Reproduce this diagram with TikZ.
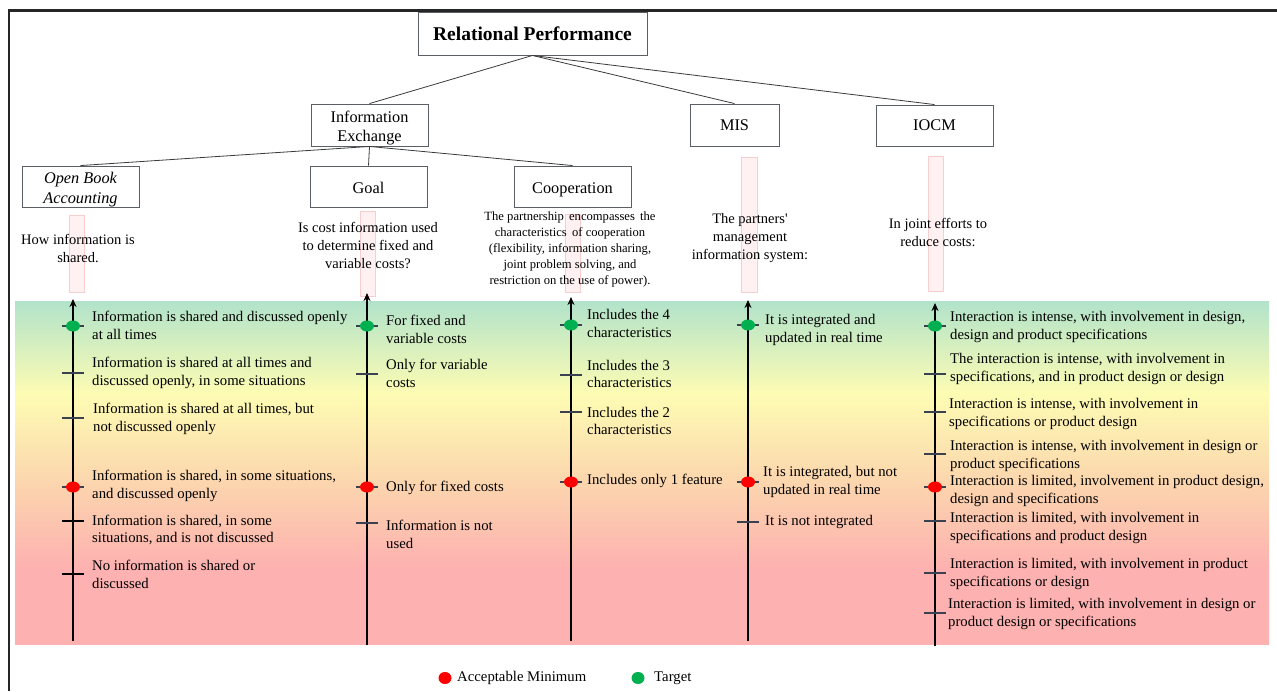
\documentclass[tikz,border=0pt]{standalone}
\usepackage{fontspec}
\setmainfont{Liberation Serif}
\newfontfamily\nolig{Liberation Serif}
\usetikzlibrary{arrows.meta,shapes.geometric}
\definecolor{framec}{HTML}{262626}
\definecolor{boxc}{HTML}{5A5F66}
\definecolor{linec}{HTML}{3A3A3A}
\definecolor{tickc}{HTML}{3A4252}
\definecolor{dotg}{HTML}{00B050}
\definecolor{dotr}{HTML}{FF0000}
\definecolor{mintc}{HTML}{B1E3CA}
\definecolor{yelc}{HTML}{FDFCB3}
\definecolor{peachc}{HTML}{FCD7AE}
\definecolor{pinkc}{HTML}{FDB1B0}
\definecolor{stripf}{HTML}{FFF1F1}
\definecolor{stripd}{HTML}{F8CDCD}
\pgfdeclareverticalshading{bandshade}{100bp}{color(0bp)=(pinkc); color(25bp)=(pinkc); color(36bp)=(pinkc); color(49bp)=(peachc); color(61.5bp)=(yelc); color(75bp)=(mintc); color(100bp)=(mintc)}
\newcommand{\bxtext}[1]{\raisebox{-3pt}[\height][\depth]{\begin{tabular}{@{}c@{}}#1\end{tabular}}}
\tikzset{
  box/.style={draw=boxc, line width=0.9pt, fill=white, align=center, inner sep=0pt, font=\fontsize{16.3}{19.5}\selectfont},
  tree/.style={draw=linec, line width=0.8pt},
  lbl/.style={anchor=west, align=left, inner sep=0pt, font=\fontsize{14.75}{17.8}\selectfont},
  desc/.style={align=center, inner sep=0pt, font=\fontsize{14.5}{18}\selectfont},
  tickm/.style={rectangle, fill=tickc, minimum width=22pt, minimum height=2.6pt, inner sep=0pt},
  btick/.style={tickm, fill=black},
  gdot/.style={ellipse, fill=dotg, minimum width=14pt, minimum height=11pt, inner sep=0pt},
  rdot/.style={ellipse, fill=dotr, minimum width=14pt, minimum height=11pt, inner sep=0pt},
  axisline/.style={line width=2.6pt, black, -{Stealth[length=8pt,width=7pt]}},
  strip/.style={fill=stripf, draw=stripd, line width=0.6pt}
}
\begin{document}
\begin{tikzpicture}[x=1pt,y=-1pt]
\useasboundingbox (0,0) rectangle (1277,691);
% frame
\draw[framec, line width=2.6pt] (9,691) -- (9,10.5) -- (1277,10.5);
% gradient band
\shade[shading=bandshade] (15,301) rectangle (1269,644);
% faint strips
\draw[strip] (69,215) rectangle (84,292);
\draw[strip] (360,211) rectangle (375,296);
\draw[strip] (565,214) rectangle (580,292);
\draw[strip] (741,157) rectangle (757,292);
\draw[strip] (928,156) rectangle (943,291);
% tree
\node[box, minimum width=229pt, minimum height=43pt, font=\fontsize{19.5}{22}\selectfont\bfseries] (rp) at (532.5,33.5) {Relational Performance};
\node[box, minimum width=117pt, minimum height=42pt] (ie) at (369.5,125) {\bxtext{Information\\Exchange}};
\node[box, minimum width=89pt, minimum height=42pt] (mis) at (734.5,125) {MIS};
\node[box, minimum width=117pt, minimum height=41pt] (iocm) at (934.5,125.5) {IOCM};
\node[box, minimum width=117pt, minimum height=41pt, font=\fontsize{16.3}{19.5}\selectfont\itshape] (oba) at (80.5,186.5) {\bxtext{Open Book\\Accounting}};
\node[box, minimum width=117pt, minimum height=41pt] (goal) at (368.5,186.5) {\bxtext{Goal}};
\node[box, minimum width=117pt, minimum height=41pt] (coop) at (572.5,186.5) {\bxtext{Cooperation}};
\draw[tree] (rp.south) -- (ie.north);
\draw[tree] (rp.south) -- (mis.north);
\draw[tree] (rp.south) -- (iocm.north);
\draw[tree] (ie.south) -- (oba.north);
\draw[tree] (ie.south) -- (goal.north);
\draw[tree] (ie.south) -- (coop.north);
% descriptions
\node[desc] (d1) at (78,248) {How information is\\shared.};
\node[desc] (d2) at (368,245) {Is cost information used\\to determine fixed and\\variable costs?};
\node[desc, font=\fontsize{12.6}{16}\selectfont] (d3) at (570,249) {The partnership\, encompasses\, the\\characteristics\, of cooperation\\(flexibility, information sharing,\\joint problem solving, and\\restriction on the use of power).};
\node[desc] (d4) at (750,238.5) {The partners{\nolig '}\\management\\information system:};
\node[desc] (d5) at (938,232.5) {In joint efforts to\\reduce costs:};
% axes
\coordinate (a1b) at (73,641); \coordinate (a1t) at (73,299);
\coordinate (a2b) at (367,645); \coordinate (a2t) at (367,293);
\coordinate (a3b) at (571,641); \coordinate (a3t) at (571,297);
\coordinate (a4b) at (748,641); \coordinate (a4t) at (748,300);
\coordinate (a5b) at (935,646); \coordinate (a5t) at (935,303);
\draw[axisline] (a1b) -- (a1t);
\draw[axisline] (a2b) -- (a2t);
\draw[axisline] (a3b) -- (a3t);
\draw[axisline] (a4b) -- (a4t);
\draw[axisline] (a5b) -- (a5t);
% column 1
\node[tickm] (t11) at (73,326) {};
\node[gdot] (g1) at (73,326) {};
\node[tickm] (t12) at (73,373) {};
\node[tickm] (t13) at (73,418) {};
\node[tickm] (t14) at (73,487) {};
\node[rdot] (r1) at (73,487) {};
\node[btick] (t15) at (73,521) {};
\node[btick] (t16) at (73,574) {};
\node[lbl] (l11) at (92,325.5) {Information is shared and discussed openly\\at all times};
\node[lbl] (l12) at (92,373) {Information is shared at all times and\\discussed openly, in some situations};
\node[lbl] (l13) at (93,419) {Information is shared at all times, but\\not discussed openly};
\node[lbl] (l14) at (92,486) {Information is shared, in some situations,\\and discussed openly};
\node[lbl] (l15) at (92,530) {Information is shared, in some\\situations, and is not discussed};
\node[lbl] (l16) at (92,574.5) {No information is shared or\\discussed};
% column 2
\node[tickm] (t21) at (367,326) {};
\node[gdot] (g2) at (367,326) {};
\node[tickm] (t22) at (367,374) {};
\node[tickm] (t23) at (367,487) {};
\node[rdot] (r2) at (367,487) {};
\node[tickm] (t24) at (367,523) {};
\node[lbl] (l21) at (386,329) {For fixed and\\variable costs};
\node[lbl] (l22) at (386,373.5) {Only for variable\\costs};
\node[lbl] (l23) at (386,488) {Only for fixed costs};
\node[lbl] (l24) at (386,534) {Information is not\\used};
% column 3
\node[tickm] (t31) at (571,325) {};
\node[gdot] (g3) at (571,325) {};
\node[tickm] (t32) at (571,375) {};
\node[tickm] (t33) at (571,412) {};
\node[tickm] (t34) at (571,482) {};
\node[rdot] (r3) at (571,482) {};
\node[lbl] (l31) at (587,323.5) {Includes the 4\\characteristics};
\node[lbl] (l32) at (587,374) {Includes the 3\\characteristics};
\node[lbl] (l33) at (587,421) {Includes the 2\\characteristics};
\node[lbl] (l34) at (587,481) {Includes only 1 feature};
% column 4
\node[tickm] (t41) at (748,325) {};
\node[gdot] (g4) at (748,325) {};
\node[tickm] (t42) at (748,482) {};
\node[rdot] (r4) at (748,482) {};
\node[tickm] (t43) at (748,522) {};
\node[lbl] (l41) at (765,330) {It is integrated and\\updated in real time};
\node[lbl] (l42) at (763,482) {It is integrated, but not\\updated in real time};
\node[lbl] (l43) at (765,522) {It is not integrated};
% column 5
\node[tickm] (t51) at (935,326) {};
\node[gdot] (g5) at (935,326) {};
\node[tickm] (t52) at (935,374) {};
\node[tickm] (t53) at (935,412) {};
\node[tickm] (t54) at (935,454) {};
\node[tickm] (t55) at (935,487) {};
\node[rdot] (r5) at (935,487) {};
\node[tickm] (t56) at (935,521) {};
\node[tickm] (t57) at (935,573) {};
\node[tickm] (t58) at (935,613) {};
\node[lbl] (l51) at (950,327) {Interaction is intense, with involvement in design,\\design and product specifications};
\node[lbl] (l52) at (950,369) {The interaction is intense, with involvement in\\specifications, and in product design or design};
\node[lbl] (l53) at (949,414) {Interaction is intense, with involvement in\\specifications or product design};
\node[lbl] (l54) at (950,456) {Interaction is intense, with involvement in design or\\product specifications};
\node[lbl] (l55) at (950,491) {Interaction is limited, involvement in product design,\\design and specifications};
\node[lbl] (l56) at (950,528) {Interaction is limited, with involvement in\\specifications and product design};
\node[lbl] (l57) at (950,574) {Interaction is limited, with involvement in product\\specifications or design};
\node[lbl] (l58) at (948,614) {Interaction is limited, with involvement in design or\\product design or specifications};
% legend
\node[rdot, minimum width=13pt, minimum height=12pt] (lr) at (445,678) {};
\node[lbl] (lrt) at (457,678) {Acceptable Minimum};
\node[gdot, minimum width=13pt, minimum height=12pt] (lg) at (638,678) {};
\node[lbl] (lgt) at (654,678) {Target};
\end{tikzpicture}
\end{document}
